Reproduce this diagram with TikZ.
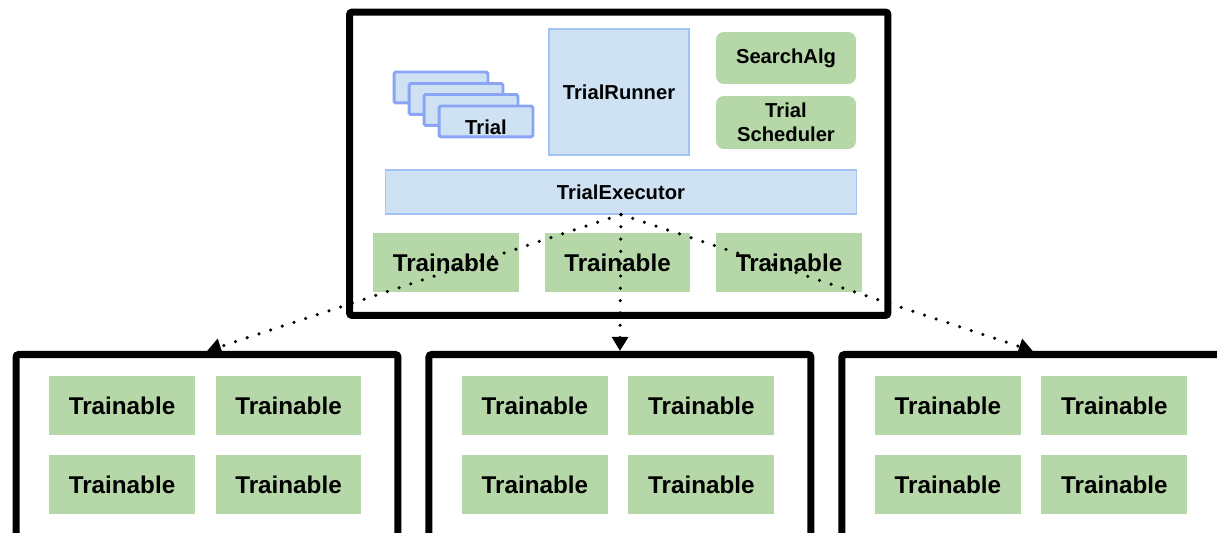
\documentclass[tikz,border=0pt]{standalone}
\usepackage{fontspec}
\setmainfont{Liberation Sans}
\usetikzlibrary{arrows.meta}

\definecolor{blaufill}{HTML}{CFE2F3}
\definecolor{blaurand}{HTML}{A4C2F4}
\definecolor{gruen}{HTML}{B6D7A8}

\tikzset{
  rahmen/.style={draw=black, fill=white, line width=4pt, rounded corners=1.5pt},
  blau/.style={draw=blaurand, fill=blaufill, line width=0.6pt, inner sep=0pt,
    font=\bfseries\fontsize{11.5}{13.6}\selectfont},
  stapel/.style={blau, draw=blaurand!85!blue, line width=1.7pt, rounded corners=1pt,
    minimum width=1.88cm, minimum height=0.62cm},
  gruenbox/.style={fill=gruen, rounded corners=4.5pt, inner sep=0pt, align=center,
    minimum width=2.8cm, font=\bfseries\fontsize{11.5}{13.6}\selectfont},
  trainable/.style={fill=gruen, inner sep=0pt, minimum width=2.92cm,
    minimum height=1.18cm, font=\bfseries\fontsize{13.8}{16}\selectfont},
  pfeil/.style={line width=2pt, line cap=round, dash pattern=on 0pt off 7pt,
    -{Triangle[length=8pt,width=9pt]}}
}

\begin{document}
\begin{tikzpicture}[x=0.02cm,y=-0.02cm]

\useasboundingbox (0,0) rectangle (1217,533);
\clip (0,0) rectangle (1217,533);

% ------------------- Obere Box -------------------
\node[rahmen, minimum width=10.77cm, minimum height=6.07cm] (tbox) at (618.75,163.75) {};

% Trial-Stapel
\node[stapel] (trial1) at (441,87.5) {};
\node[stapel] (trial2) at (456,99) {};
\node[stapel] (trial3) at (471,110) {};
\node[stapel] (trial4) at (486,121.5) {\raisebox{-3pt}[\height][0pt]{Trial}};

\node[blau, minimum width=2.8cm, minimum height=2.52cm] (runner) at (619,92) {TrialRunner};

\node[gruenbox, minimum height=1.04cm] (search) at (786,58) {SearchAlg};
\node[gruenbox, minimum height=1.06cm] (sched) at (786,122.5) {Trial\\Scheduler};

\node[blau, minimum width=9.44cm, minimum height=0.88cm] (exec) at (621,192) {TrialExecutor};

\node[trainable] (t1) at (446,262.5) {Trainable};
\node[trainable] (t2) at (617.5,262.5) {Trainable};
\node[trainable] (t3) at (789,262.5) {Trainable};

% ------------------- Untere Boxen -------------------
\begin{scope}
  \node[rahmen, anchor=north, minimum width=7.64cm, minimum height=5cm] (lbox) at (207,351) {};
  \node[trainable] (l1) at (122,405.5) {Trainable};
  \node[trainable] (l2) at (288.5,405.5) {Trainable};
  \node[trainable] (l3) at (122,484.5) {Trainable};
  \node[trainable] (l4) at (288.5,484.5) {Trainable};
\end{scope}

\begin{scope}[xshift=8.26cm]
  \node[rahmen, anchor=north, minimum width=7.64cm, minimum height=5cm] (mbox) at (207,351) {};
  \node[trainable] (m1) at (122,405.5) {Trainable};
  \node[trainable] (m2) at (288.5,405.5) {Trainable};
  \node[trainable] (m3) at (122,484.5) {Trainable};
  \node[trainable] (m4) at (288.5,484.5) {Trainable};
\end{scope}

\begin{scope}[xshift=16.52cm]
  \node[rahmen, anchor=north, minimum width=7.64cm, minimum height=5cm] (rbox) at (207,351) {};
  \node[trainable] (r1) at (122,405.5) {Trainable};
  \node[trainable] (r2) at (288.5,405.5) {Trainable};
  \node[trainable] (r3) at (122,484.5) {Trainable};
  \node[trainable] (r4) at (288.5,484.5) {Trainable};
\end{scope}

% Pfeile
\draw[pfeil] (exec.south) -- (lbox.north);
\draw[pfeil] (exec.south) -- (mbox.north);
\draw[pfeil] (exec.south) -- (rbox.north);

\end{tikzpicture}
\end{document}
